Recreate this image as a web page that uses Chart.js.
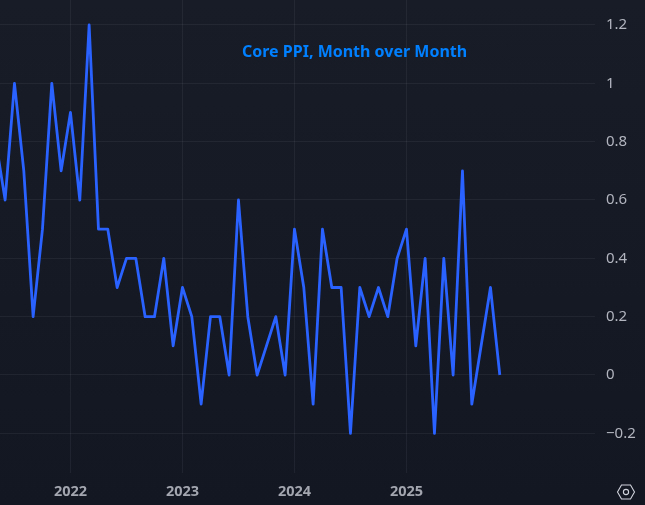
<!DOCTYPE html>
<html>
<head>
<meta charset="utf-8">
<style>
html, body { margin: 0; padding: 0; }
body { width: 645px; height: 505px; overflow: hidden; position: relative; background: linear-gradient(#181c27, #131722); font-family: "Noto Sans", sans-serif; }
#chart { position: absolute; left: 0; top: 0; }
#title { position: absolute; left: 242px; top: 40px; color: #0080ff; font: bold 16px "Noto Sans", sans-serif; white-space: nowrap; }
#logo { position: absolute; left: 616px; top: 482px; }
</style>
<script src="https://cdn.jsdelivr.net/npm/chart.js@4"></script>
</head>
<body>
<div style="position:absolute;left:0;top:0;width:645px;height:505px"><canvas id="chart"></canvas></div>
<div id="title">Core PPI, Month over Month</div>
<svg id="logo" width="20" height="20" viewBox="0 0 20 20" fill="none" stroke="#d1d4dc" stroke-width="1.1">
  <path d="M1.5 10 L5.5 3 H14.5 L18.5 10 L14.5 17 H5.5 Z"/>
  <circle cx="10" cy="10" r="2.6"/>
</svg>
<script>
// first month of the series is May 2021, counted from Jan 2022 = 0
const startMonth = -8;
const coreValues = [
    0.8, 0.6, 1.0, 0.7, 0.2, 0.5, 1.0, 0.7,
    0.9, 0.6, 1.2, 0.5, 0.5, 0.3, 0.4, 0.4, 0.2, 0.2, 0.4, 0.1,
    0.3, 0.2, -0.1, 0.2, 0.2, 0, 0.6, 0.2, 0, 0.1, 0.2, 0,
    0.5, 0.3, -0.1, 0.5, 0.3, 0.3, -0.2, 0.3, 0.2, 0.3, 0.2, 0.4,
    0.5, 0.1, 0.4, -0.2, 0.4, 0, 0.7, -0.1, 0.1, 0.3, 0
];
const yearTicks = [0, 12, 24, 36];
const yearLabels = ["2022", "2023", "2024", "2025"];
const valueTicks = [-0.2, 0, 0.2, 0.4, 0.6, 0.8, 1, 1.2];

const points = coreValues.map((v, i) => ({ x: startMonth + i, y: v }));

function noAxisPadding(axis) {
    axis.paddingTop = 0;
    axis.paddingBottom = 0;
    axis.paddingLeft = 0;
    axis.paddingRight = 0;
}

new Chart(document.getElementById("chart"), {
    type: "line",
    data: {
        datasets: [{
            data: points,
            borderColor: "#2962ff",
            borderWidth: 2.8,
            pointRadius: 0,
            tension: 0,
            borderJoinStyle: "round"
        }]
    },
    options: {
        responsive: true,
        maintainAspectRatio: false,
        animation: false,
        layout: { padding: 0 },
        plugins: { legend: { display: false }, tooltip: { enabled: false } },
        scales: {
            x: {
                type: "linear",
                min: -7.55,
                max: 56.2,
                afterBuildTicks: axis => { axis.ticks = yearTicks.map(value => ({ value })); },
                afterFit: axis => { axis.height = 32; noAxisPadding(axis); },
                grid: { color: "rgba(240,243,250,0.06)", drawTicks: false, tickLength: 0 },
                border: { display: false },
                ticks: {
                    color: "#a3a6af",
                    font: { family: "Noto Sans", size: 14.5, weight: "bold" },
                    padding: 10,
                    maxRotation: 0,
                    callback: value => yearLabels[yearTicks.indexOf(value)]
                }
            },
            y: {
                position: "right",
                min: -0.336,
                max: 1.2857,
                afterBuildTicks: axis => { axis.ticks = valueTicks.map(value => ({ value })); },
                afterFit: axis => { axis.width = 50; noAxisPadding(axis); },
                grid: { color: "rgba(240,243,250,0.06)", drawTicks: false, tickLength: 0 },
                border: { display: false },
                ticks: {
                    color: "#b2b5be",
                    font: { family: "Noto Sans", size: 15 },
                    padding: 11,
                    callback: value => value < 0 ? "\u2212" + Math.abs(value) : String(value)
                }
            }
        }
    }
});
</script>
</body>
</html>
